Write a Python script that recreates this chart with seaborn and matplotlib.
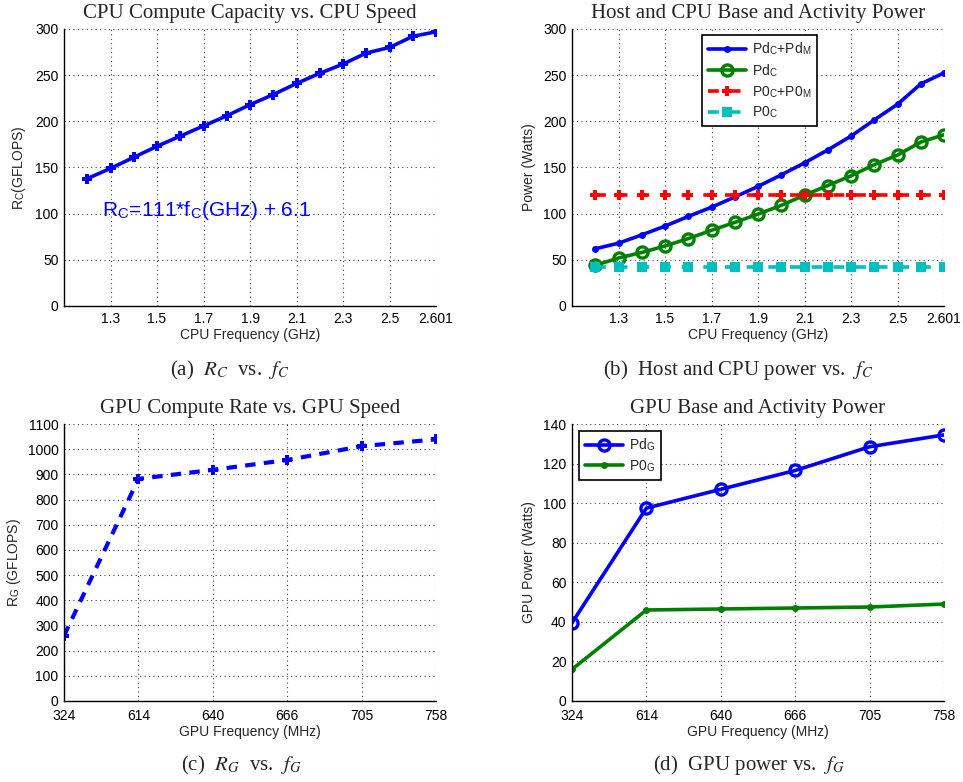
import numpy as np
import pandas as pd
import matplotlib
matplotlib.use("Agg")
import matplotlib.pyplot as plt
import seaborn as sns

# ---------------- data ----------------
cpu_freq = ["1.2", "1.3", "1.4", "1.5", "1.6", "1.7", "1.8", "1.9", "2.0",
            "2.1", "2.2", "2.3", "2.4", "2.5", "2.6", "2.601"]
cpu_rate = [138, 149, 161, 173, 184, 195, 206, 218, 229, 241, 252, 262, 274, 280, 292, 297]

pd_c_plus_pd_m = [62, 68, 77, 86.5, 97, 107, 118, 129.5, 142, 155, 169, 184, 201.5, 218.5, 240.5, 252.5]
pd_c = [44, 52, 58, 65, 73, 82, 90.5, 99.5, 109, 120, 130.5, 141, 153, 163.5, 177.5, 185.5]
p0_c_plus_p0_m = [120] * 16
p0_c = [42] * 16

gpu_freq = ["324", "614", "640", "666", "705", "758"]
gpu_rate = [259, 882, 918, 957, 1012, 1039]
pd_g = [39.5, 97.5, 107, 116.5, 128.5, 134.5]
p0_g = [16, 46, 46.5, 47, 47.5, 49]

cpu_tick_labels = ["1.3", "1.5", "1.7", "1.9", "2.1", "2.3", "2.5", "2.601"]

# ---------------- style ----------------
sns.set_style("white")
plt.rcParams["font.family"] = ["Liberation Sans", "DejaVu Sans"]
plt.rcParams["mathtext.fontset"] = "stix"

SERIF = ["Liberation Serif", "DejaVu Serif"]
BLUE = "#0000ff"
GREEN = "#008000"
RED = "#ff0000"
CYAN = "#00bfbf"
LW = 2.6
FS = 10

fig = plt.figure(figsize=(9.63, 7.82), dpi=100)
W, H = 963, 782


def add_ax(l, t, r, b):
    return fig.add_axes([l / W, 1 - b / H, (r - l) / W, (b - t) / H])


ax_a = add_ax(64, 29, 436, 306)
ax_b = add_ax(572, 29, 944, 306)
ax_c = add_ax(64, 424, 436, 701)
ax_d = add_ax(572, 424, 944, 701)

cpu_x = np.arange(len(cpu_freq))
gpu_x = np.arange(len(gpu_freq))
cpu_df = pd.DataFrame({"x": cpu_x, "rate": cpu_rate, "pdcm": pd_c_plus_pd_m,
                       "pdc": pd_c, "p0cm": p0_c_plus_p0_m, "p0c": p0_c})
gpu_df = pd.DataFrame({"x": gpu_x, "rate": gpu_rate, "pdg": pd_g, "p0g": p0_g})


def style_axis(ax, xpad=4):
    for s in ["top", "right"]:
        ax.spines[s].set_visible(False)
    for s in ["left", "bottom"]:
        ax.spines[s].set_color("black")
        ax.spines[s].set_linewidth(1.0)
    ax.grid(True, linestyle=(0, (1, 3)), color="#444444", linewidth=0.8)
    ax.set_axisbelow(True)
    ax.tick_params(axis="both", direction="in", length=3, labelsize=FS,
                   colors="black", pad=4)
    ax.tick_params(axis="x", pad=xpad)


def make_legend(ax, anchor):
    leg = ax.legend(loc="upper left", bbox_to_anchor=anchor, fontsize=FS,
                    frameon=True, fancybox=False, edgecolor="black", framealpha=1,
                    handlelength=2.8, borderpad=0.4, labelspacing=0.35,
                    handletextpad=0.4, borderaxespad=0)
    leg.get_frame().set_linewidth(1.2)


# ---- (a) ----
sns.lineplot(data=cpu_df, x="x", y="rate", ax=ax_a, color=BLUE, lw=LW,
             marker="P", markersize=7, markeredgewidth=0, markerfacecolor=BLUE)
ax_a.set_xlim(-1, 15)
ax_a.set_ylim(0, 300)
ax_a.set_yticks(np.arange(0, 301, 50))
ax_a.set_xticks(cpu_x[1::2])
ax_a.set_xticklabels(cpu_tick_labels)
ax_a.set_xlabel("CPU Frequency (GHz)", fontsize=FS, labelpad=2)
ax_a.set_ylabel(r"R$_\mathregular{C}$(GFLOPS)", fontsize=FS, labelpad=5)
ax_a.set_title("CPU Compute Capacity vs. CPU Speed", family=SERIF, fontsize=15, pad=8)
ax_a.text(0.62, 97, r"R$_\mathregular{C}$=111*f$_\mathregular{C}$(GHz) + 6.1",
          color=BLUE, fontsize=15, va="baseline", ha="left")
style_axis(ax_a)

# ---- (b) ----
sns.lineplot(data=cpu_df, x="x", y="pdcm", ax=ax_b, color=BLUE, lw=LW,
             marker="o", markersize=5, markeredgewidth=0,
             label=r"Pd$_\mathregular{C}$+Pd$_\mathregular{M}$")
sns.lineplot(data=cpu_df, x="x", y="pdc", ax=ax_b, color=GREEN, lw=LW,
             marker="o", markersize=8, markeredgewidth=2.4, markerfacecolor="none",
             markeredgecolor=GREEN, label=r"Pd$_\mathregular{C}$")
sns.lineplot(data=cpu_df, x="x", y="p0cm", ax=ax_b, color=RED, lw=LW,
             linestyle=(0, (3, 3)), marker="P", markersize=7, markeredgewidth=0,
             label=r"P0$_\mathregular{C}$+P0$_\mathregular{M}$")
sns.lineplot(data=cpu_df, x="x", y="p0c", ax=ax_b, color=CYAN, lw=LW,
             linestyle=(0, (3, 3)), marker="s", markersize=7, markeredgewidth=0,
             label=r"P0$_\mathregular{C}$")
ax_b.set_xlim(-1, 15)
ax_b.set_ylim(0, 300)
ax_b.set_yticks(np.arange(0, 301, 50))
ax_b.set_xticks(cpu_x[1::2])
ax_b.set_xticklabels(cpu_tick_labels)
ax_b.set_xlabel("CPU Frequency (GHz)", fontsize=FS, labelpad=2)
ax_b.set_ylabel("Power (Watts)", fontsize=FS, labelpad=5)
ax_b.set_title("Host and CPU Base and Activity Power", family=SERIF, fontsize=15, pad=8)
make_legend(ax_b, (130 / 372, 1 - 6 / 277))
style_axis(ax_b)

# ---- (c) ----
sns.lineplot(data=gpu_df, x="x", y="rate", ax=ax_c, color=BLUE, lw=LW + 0.4,
             linestyle=(0, (2.5, 2)), marker="P", markersize=7, markeredgewidth=0)
ax_c.set_xlim(0, 5)
ax_c.set_ylim(0, 1100)
ax_c.set_yticks(np.arange(0, 1101, 100))
ax_c.set_xticks(gpu_x)
ax_c.set_xticklabels(gpu_freq)
ax_c.set_xlabel("GPU Frequency (MHz)", fontsize=FS, labelpad=1)
ax_c.set_ylabel(r"R$_\mathregular{G}$ (GFLOPS)", fontsize=FS, labelpad=3)
ax_c.set_title("GPU Compute Rate vs. GPU Speed", family=SERIF, fontsize=15, pad=8)
style_axis(ax_c, xpad=6)

# ---- (d) ----
sns.lineplot(data=gpu_df, x="x", y="pdg", ax=ax_d, color=BLUE, lw=LW,
             marker="o", markersize=8, markeredgewidth=2.4, markerfacecolor="none",
             markeredgecolor=BLUE, label=r"Pd$_\mathregular{G}$")
sns.lineplot(data=gpu_df, x="x", y="p0g", ax=ax_d, color=GREEN, lw=LW,
             marker="o", markersize=5, markeredgewidth=0,
             label=r"P0$_\mathregular{G}$")
ax_d.set_xlim(0, 5)
ax_d.set_ylim(0, 140)
ax_d.set_yticks(np.arange(0, 141, 20))
ax_d.set_xticks(gpu_x)
ax_d.set_xticklabels(gpu_freq)
ax_d.set_xlabel("GPU Frequency (MHz)", fontsize=FS, labelpad=1)
ax_d.set_ylabel("GPU Power (Watts)", fontsize=FS, labelpad=5)
ax_d.set_title("GPU Base and Activity Power", family=SERIF, fontsize=15, pad=8)
make_legend(ax_d, (7 / 372, 1 - 7 / 277))
style_axis(ax_d, xpad=6)

# ---- captions ----
cap_kw = dict(family=SERIF, fontsize=15, ha="center", va="center")
fig.text(230 / W, 1 - 370 / H, r"(a)  $R_C$  vs.  $f_C$", **cap_kw)
fig.text(738 / W, 1 - 370 / H, r"(b)  Host and CPU power vs.  $f_C$", **cap_kw)
fig.text(241 / W, 1 - 765 / H, r"(c)  $R_G$  vs.  $f_G$", **cap_kw)
fig.text(749 / W, 1 - 765 / H, r"(d)  GPU power vs.  $f_G$", **cap_kw)

fig.savefig("out.png", dpi=100)
